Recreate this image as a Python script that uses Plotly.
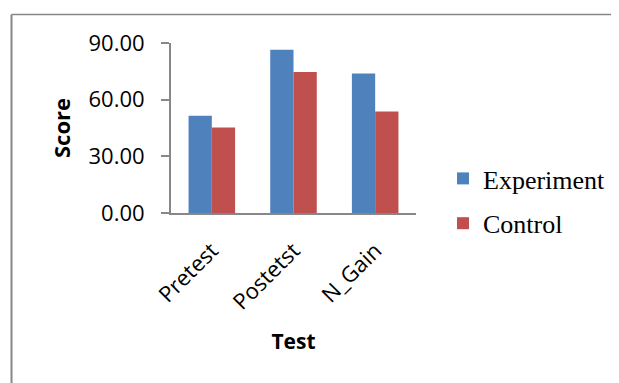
import plotly.graph_objects as go

categories = ["Pretest", "Postetst", "N_Gain"]
experiment = [51.5, 86.4, 73.8]
control = [45.3, 74.6, 53.8]
y_ticks = [0, 30, 60, 90]
y_tick_labels = ["0.00", "30.00", "60.00", "90.00"]

OFF = 8  # page body margin
W, H = 619 - OFF, 383 - OFF
L, T = 171 - OFF, 43 - OFF
pw, ph = 245, 170
R, B = W - L - pw, H - T - ph

def px(x):
    return (x - OFF - L) / pw

def py(y):
    return (T + ph - (y - OFF)) / ph

fig = go.Figure()
fig.add_trace(go.Bar(name="Experiment", x=categories, y=experiment,
                     marker=dict(color="#4F81BD", line=dict(width=0)),
                     legendgroup="a"))
fig.add_trace(go.Bar(name="Control", x=categories, y=control,
                     marker=dict(color="#C0504D", line=dict(width=0)),
                     legendgroup="b"))

gray = "#878787"
fig.update_layout(
    width=W, height=H,
    margin=dict(l=L, r=R, t=T, b=B, autoexpand=False),
    paper_bgcolor="white", plot_bgcolor="white",
    barmode="group", bargap=0.43, bargroupgap=0,
    font=dict(family="Open Sans", color="black"),
    showlegend=True,
    legend=dict(x=px(443), y=py(201), xanchor="left", yanchor="middle",
                font=dict(family="Liberation Serif", size=26, color="black"),
                tracegroupgap=8, bgcolor="rgba(0,0,0,0)"),
    xaxis=dict(showline=True, linecolor=gray, linewidth=2, ticks="",
               tickangle=-45, tickfont=dict(size=22, family="Open Sans"),
               ticklabelstandoff=14,
               title=dict(text="<b>Test</b>", font=dict(size=21, family="Open Sans"), standoff=20),
               showgrid=False),
    yaxis=dict(range=[0, 90], tickvals=y_ticks, ticktext=y_tick_labels,
               showline=True, linecolor=gray, linewidth=2,
               ticks="outside", ticklen=8, tickcolor=gray, tickwidth=2,
               tickfont=dict(size=22, family="Open Sans"), ticklabelstandoff=12,
               title=dict(text="<b>Score</b>", font=dict(size=22, family="Open Sans"), standoff=12),
               showgrid=False, zeroline=False),
    shapes=[
        dict(type="line", xref="paper", yref="paper",
             x0=px(11.5), x1=px(11.5), y0=py(14.5), y1=py(400),
             line=dict(color=gray, width=2)),
        dict(type="line", xref="paper", yref="paper",
             x0=px(11.5), x1=px(640), y0=py(14.5), y1=py(14.5),
             line=dict(color=gray, width=1.5)),
    ],
)

fig.write_html("out.html")
